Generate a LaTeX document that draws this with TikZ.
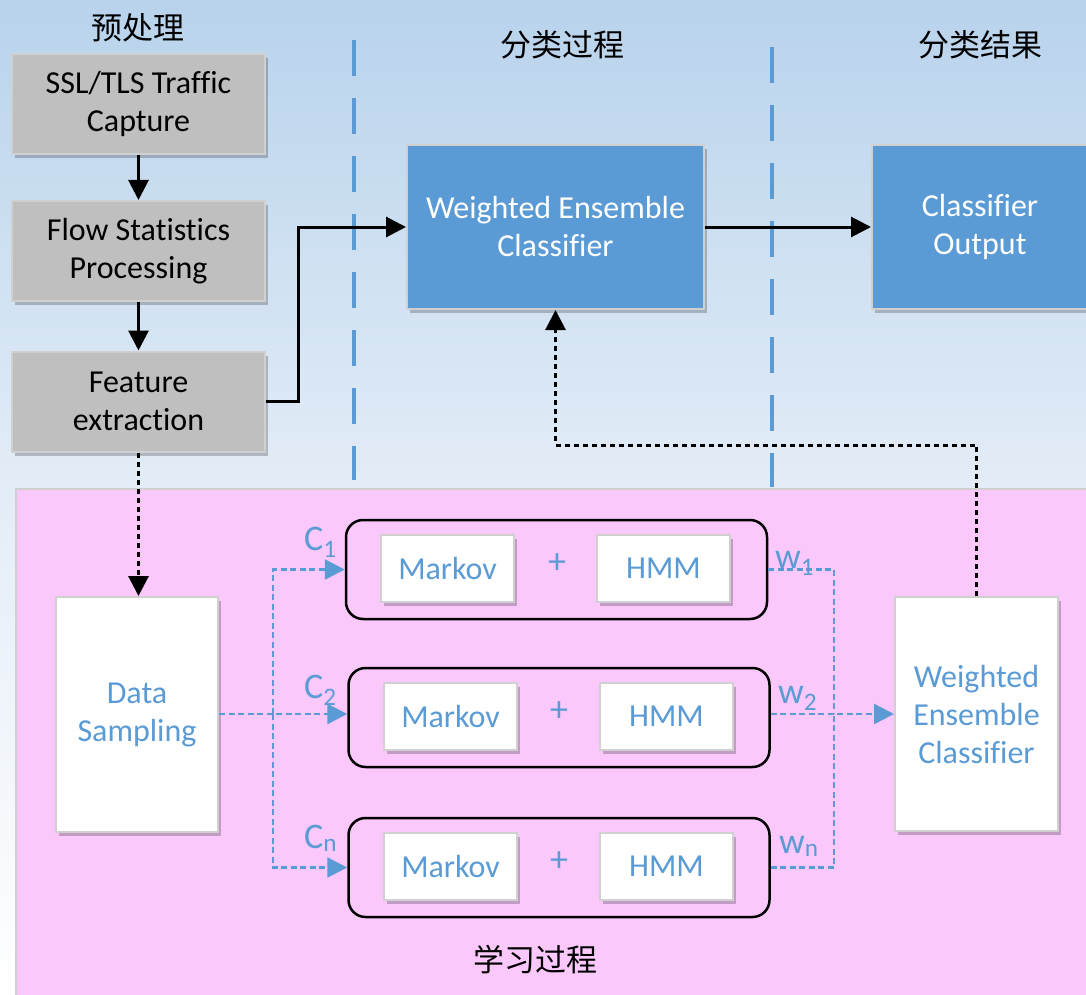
\documentclass[tikz,border=0pt]{standalone}
\usepackage{fontspec}
\setmainfont{Carlito}[Ligatures=NoCommon]
\newfontfamily\cjk{Noto Sans CJK SC}
\usetikzlibrary{arrows.meta,shadows,calc}
\definecolor{skyA}{HTML}{B8D3EC}
\definecolor{skyB}{HTML}{E4EDF7}
\definecolor{pinkbg}{HTML}{FBC8FB}
\definecolor{steel}{HTML}{5B9BD5}
\definecolor{greybox}{HTML}{BFBFBF}
\definecolor{rim}{HTML}{D0D0D0}
\tikzset{
  txt/.style={font=\fontsize{32}{38}\selectfont},
  shade/.style={drop shadow={shadow xshift=3pt,shadow yshift=-4pt,opacity=0.22,fill=black}},
  stagebox/.style={txt,draw=rim,line width=2pt,fill=greybox,align=center,
    minimum width=253pt,minimum height=100pt,inner sep=0pt,shade},
  bluebox/.style={txt,draw=rim,line width=2pt,fill=steel,text=white,align=center,
    minimum height=164pt,inner sep=0pt,shade},
  whitebox/.style={txt,draw=rim,line width=2pt,fill=white,text=steel,align=center,
    inner sep=0pt,shade},
  modelbox/.style={whitebox,minimum width=133pt,minimum height=67pt},
  group/.style={draw=black,line width=2.5pt,rounded corners=17pt,
    minimum width=421pt,minimum height=99pt,inner sep=0pt},
  title/.style={font=\cjk\fontsize{31}{34}\selectfont,text=black},
  lab/.style={font=\fontsize{36}{36}\selectfont,text=steel,inner sep=0pt},
  sublab/.style={lab,anchor=base west},
  solidarrow/.style={draw=black,line width=3pt,-{Triangle[length=20pt,width=20pt]}},
  blackdots/.style={draw=black,line width=3pt,dash pattern=on 5pt off 4pt},
  bluedots/.style={draw=steel,line width=2.5pt,dash pattern=on 6pt off 3.5pt},
  bluetip/.style={-{Triangle[length=20pt,width=20pt]}},
  separator/.style={draw=steel,line width=4pt,dash pattern=on 36pt off 22pt}
}
\begin{document}
\begin{tikzpicture}[x=1pt,y=-1pt]
  % backdrop: sky gradient and the pink learning area
  \useasboundingbox (0,0) rectangle (1086,995);
  \fill[top color=skyA,bottom color=white,middle color=skyB] (0,0) rectangle (1086,995);
  \fill[pinkbg,draw=rim,line width=2pt] (16,489) rectangle (1092,1000);

  % stage separators
  \draw[separator] (354,40) -- (354,480);
  \draw[separator] (772,47) -- (772,487);

  % stage titles
  \node[title] (t1) at (138,28) {预处理};
  \node[title] (t2) at (562,45) {分类过程};
  \node[title] (t3) at (980,45) {分类结果};
  \node[title] (t4) at (535,960) {学习过程};

  % preprocessing chain
  \node[stagebox] (cap) at (138.5,104) {SSL/TLS Traffic\\Capture};
  \node[stagebox] (flow) at (138.5,251) {Flow Statistics\\Processing};
  \node[stagebox] (feat) at (138.5,401.5) {Feature\\extraction};

  % classification
  \node[bluebox,minimum width=297pt] (wec) at (555.5,227) {Weighted Ensemble\\Classifier};
  \node[bluebox,minimum width=216pt] (out) at (980,227) {Classifier\\Output};

  % learning stage
  \node[whitebox,minimum width=162pt,minimum height=235pt] (ds) at (137,714.5) {Data\\Sampling};
  \node[whitebox,minimum width=163pt,minimum height=234pt] (wr) at (976.5,714) {Weighted\\Ensemble\\Classifier};

  \node[group] (g1) at (556.5,569.5) {};
  \node[group] (g2) at (559,717.5) {};
  \node[group] (g3) at (559,867.5) {};

  \node[modelbox] (m1) at (447.5,568.5) {Markov};
  \node[modelbox] (h1) at (663.5,568.5) {HMM};
  \node[modelbox] (m2) at (450.5,716.5) {Markov};
  \node[modelbox] (h2) at (666.5,716.5) {HMM};
  \node[modelbox] (m3) at (450.5,866.5) {Markov};
  \node[modelbox] (h3) at (666.5,866.5) {HMM};

  \node[lab] (p1) at (557,564) {+};
  \node[lab] (p2) at (559,712) {+};
  \node[lab] (p3) at (559,862) {+};

  \node[sublab] (c1) at (304,550) {C\textsubscript{1}};
  \node[sublab] (c2) at (304,698) {C\textsubscript{2}};
  \node[sublab] (cn) at (304,848) {C\textsubscript{n}};
  \node[sublab] (w1) at (775,568) {w\textsubscript{1}};
  \node[sublab] (w2) at (778,703) {w\textsubscript{2}};
  \node[sublab] (wn) at (779,853) {w\textsubscript{n}};

  % solid flow
  \draw[solidarrow] (cap.south) -- (flow.north);
  \draw[solidarrow] (flow.south) -- (feat.north);
  \draw[solidarrow] (feat.east) -- ++(32,0) |- (wec.west);
  \draw[solidarrow] (wec.east) -- (out.west);

  % dotted links
  \draw[blackdots,-{Triangle[length=20pt,width=20pt]}] (feat.south) -- (feat.south |- ds.north);
  \coordinate (fb) at (977,445);
  \draw[blackdots,-{Triangle[length=20pt,width=20pt]}] (wr.north) -- (wr.north |- fb) -| (wec.south);

  % sampling into the member models
  \coordinate (split) at (273,714);
  \draw[bluedots,bluetip] (ds.east |- split) -- (split -| g2.west);
  \draw[bluedots,bluetip] (split) |- (g1.west);
  \draw[bluedots,bluetip] (split) |- (g3.west);

  % weighted outputs into the ensemble
  \coordinate (merge) at (834,714);
  \draw[bluedots] (g1.east) -| (merge);
  \draw[bluedots] (g3.east) -| (merge);
  \draw[bluedots,bluetip] (g2.east |- merge) -- (merge -| wr.west);
\end{tikzpicture}
\end{document}
